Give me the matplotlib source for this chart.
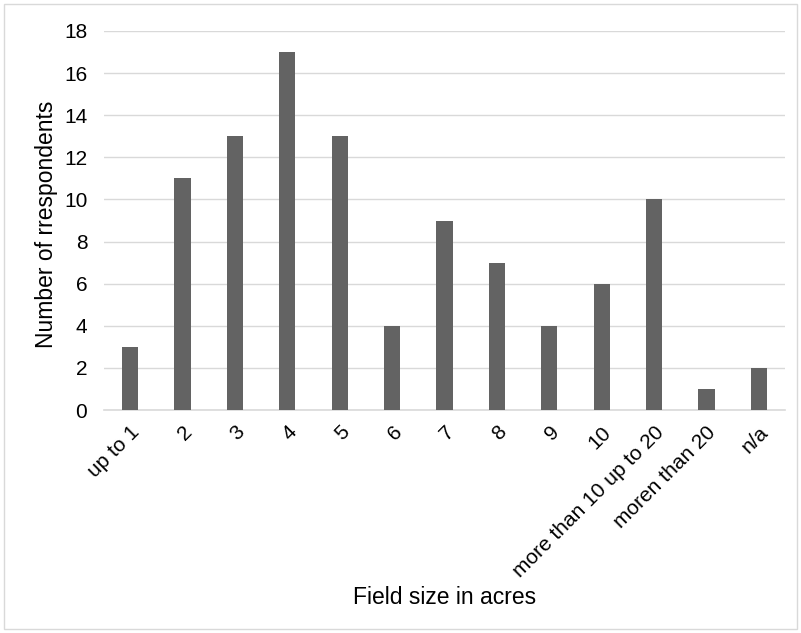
import numpy as np
import matplotlib
matplotlib.use("Agg")
import matplotlib.pyplot as plt
from matplotlib.patches import Rectangle

categories = ["up to 1", "2", "3", "4", "5", "6", "7", "8", "9", "10",
              "more than 10 up to 20", "moren than 20", "n/a"]
respondents = [3, 11, 13, 17, 13, 4, 9, 7, 4, 6, 10, 1, 2]
yticks = [0, 2, 4, 6, 8, 10, 12, 14, 16, 18]

plt.rcParams['font.family'] = ['Liberation Sans', 'DejaVu Sans']

fig = plt.figure(figsize=(8.01, 6.33), dpi=100)
ax = fig.add_axes([104/801, 1 - 410/633, (785 - 104)/801, (410 - 31)/633])

x = np.arange(len(categories))
ax.bar(x, respondents, width=0.31, color="#636363", zorder=3)

ax.set_xlim(-0.5, len(categories) - 0.5)
ax.set_ylim(0, 18)
ax.set_yticks(yticks)
ax.yaxis.grid(True, color="#d9d9d9", linewidth=1, zorder=0)
ax.set_xticks(x)
ax.set_xticklabels(categories, rotation=45, ha="right", rotation_mode="anchor")
ax.tick_params(axis="both", length=0, labelsize=15, colors="black")
ax.tick_params(axis="x", pad=9)
ax.tick_params(axis="y", pad=12)

for s in ["top", "right", "left"]:
    ax.spines[s].set_visible(False)
ax.spines["bottom"].set_color("#d9d9d9")
ax.spines["bottom"].set_linewidth(1.2)

# y label a bit closer to the tick labels, like the reference
ax.set_ylabel("Number of rrespondents", fontsize=16.5)
ax.yaxis.set_label_coords(-0.068, 0.49)
fig.text(445/801, 1 - 597/633, "Field size in acres", fontsize=16.5,
         ha="center", va="center")

fig.patches.append(Rectangle((4/801, 4/633), 793/801, 625/633, transform=fig.transFigure,
                             fill=False, edgecolor="#d9d9d9", linewidth=1))

fig.savefig("out.png", dpi=100)
